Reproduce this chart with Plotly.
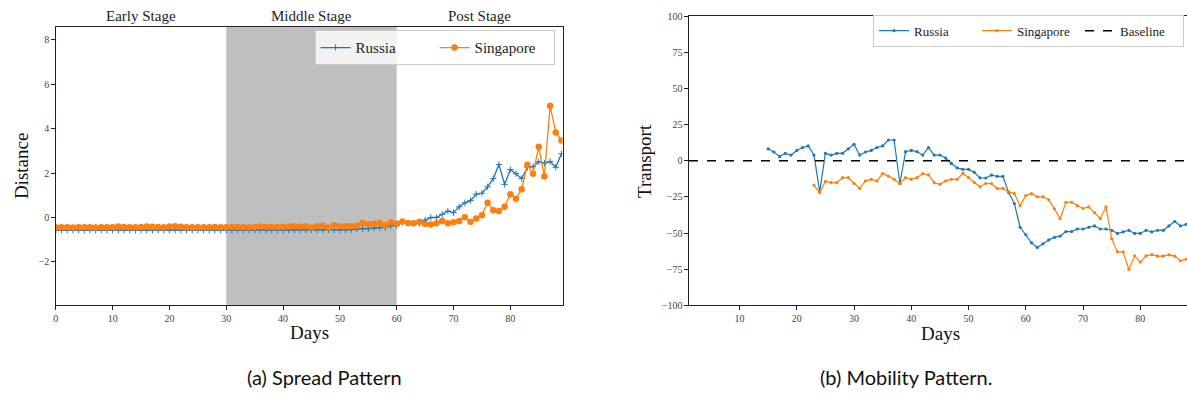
import plotly.graph_objects as go

# ---------------- data ----------------
spread_days = list(range(0, 90))
russia_spread = [
    -0.57, -0.57, -0.57, -0.57, -0.57, -0.57, -0.57, -0.57, -0.57, -0.57,
    -0.57, -0.57, -0.57, -0.57, -0.57, -0.57, -0.57, -0.57, -0.57, -0.57,
    -0.57, -0.57, -0.57, -0.57, -0.57, -0.57, -0.57, -0.57, -0.57, -0.57,
    -0.57, -0.57, -0.57, -0.57, -0.57, -0.57, -0.57, -0.57, -0.57, -0.57,
    -0.57, -0.57, -0.56, -0.56, -0.56, -0.56, -0.56, -0.56, -0.56, -0.56,
    -0.56, -0.56, -0.55, -0.51, -0.51, -0.51, -0.48, -0.45, -0.45, -0.37,
    -0.37, -0.22, -0.26, -0.26, -0.26, -0.12, 0.00, 0.00, 0.14, 0.29,
    0.22, 0.48, 0.66, 0.76, 1.05, 1.09, 1.38, 1.75, 2.38, 1.49,
    2.16, 1.97, 1.75, 2.26, 2.29, 2.51, 2.45, 2.52, 2.26, 2.87,
]
singapore_spread = [
    -0.44, -0.44, -0.44, -0.45, -0.44, -0.44, -0.44, -0.45, -0.44, -0.44,
    -0.44, -0.41, -0.43, -0.44, -0.44, -0.43, -0.41, -0.42, -0.43, -0.44,
    -0.41, -0.39, -0.42, -0.44, -0.44, -0.44, -0.44, -0.44, -0.43, -0.44,
    -0.44, -0.43, -0.43, -0.44, -0.44, -0.43, -0.40, -0.42, -0.43, -0.43,
    -0.42, -0.40, -0.39, -0.41, -0.39, -0.45, -0.39, -0.37, -0.45, -0.35,
    -0.39, -0.39, -0.39, -0.37, -0.25, -0.30, -0.28, -0.25, -0.35, -0.22,
    -0.27, -0.18, -0.25, -0.26, -0.19, -0.29, -0.31, -0.26, -0.16, -0.26,
    -0.21, -0.16, 0.01, -0.19, -0.04, 0.10, 0.66, 0.33, 0.29, 0.48,
    1.05, 0.84, 1.27, 2.37, 1.97, 3.18, 1.85, 5.03, 3.83, 3.47,
]

stage_names = ["Early Stage", "Middle Stage", "Post Stage"]
stage_starts = [0, 30, 60]
stage_ends = [30, 60, 89]

russia_mob_days = list(range(15, 89))
russia_transport = [
    8.3, 6.1, 2.9, 5.2, 4.0, 7.2, 9.2, 10.3, 4.0, -21.3,
    5.2, 4.0, 5.2, 5.2, 8.3, 11.4, 4.0, 6.1, 7.2, 9.2,
    10.3, 14.4, 14.4, -15.7, 6.3, 7.2, 6.3, 4.0, 9.2, 4.0,
    4.0, 1.9, -1.8, -4.9, -5.9, -5.9, -7.9, -11.8, -11.9, -9.9,
    -10.8, -10.8, -22.0, -29.6, -46.0, -51.2, -56.8, -60.0, -57.5, -54.8,
    -53.0, -52.1, -49.0, -49.0, -47.2, -47.2, -46.0, -45.1, -47.2, -47.2,
    -48.1, -50.3, -49.2, -48.1, -50.3, -50.3, -48.1, -49.2, -48.1, -48.1,
    -45.1, -42.0, -45.1, -44.0,
]
singapore_mob_days = list(range(23, 89))
singapore_transport = [
    -16.8, -22.0, -14.2, -15.1, -15.1, -11.7, -11.7, -15.7, -19.1, -13.9,
    -12.8, -13.9, -8.8, -10.6, -12.8, -15.7, -11.7, -12.8, -11.7, -8.8,
    -9.7, -15.1, -16.2, -13.9, -12.8, -12.8, -8.7, -11.7, -15.0, -18.0,
    -15.7, -15.7, -19.1, -19.1, -21.3, -22.7, -31.0, -24.0, -22.7, -24.9,
    -24.9, -27.0, -33.2, -40.0, -28.7, -28.7, -31.0, -33.0, -31.9, -35.9,
    -40.0, -31.9, -53.9, -63.1, -63.1, -75.2, -65.8, -70.1, -65.8, -64.9,
    -66.0, -66.0, -65.1, -66.0, -69.2, -68.1,
]
baseline_value = 0

spread_xrange = [0, 89.2]
spread_yrange = [-3.95, 8.57]
mob_xrange = [1.17, 88.15]
mob_yrange = [-100, 100]

BLUE = "#1f77b4"
ORANGE = "#ff7f0e"
SERIF = "Liberation Serif"
SANS = "Lato"

fig = go.Figure()

# ---------------- left: spread ----------------
fig.add_trace(go.Scatter(
    x=spread_days, y=russia_spread, mode="lines+markers", name="Russia",
    line=dict(color=BLUE, width=1.3),
    marker=dict(symbol="cross-thin", size=4.5, line=dict(color=BLUE, width=1), color=BLUE),
    xaxis="x", yaxis="y", legend="legend",
))
fig.add_trace(go.Scatter(
    x=spread_days, y=singapore_spread, mode="lines+markers", name="Singapore",
    line=dict(color=ORANGE, width=1.3),
    marker=dict(symbol="circle", size=6.5, color=ORANGE),
    xaxis="x", yaxis="y", legend="legend",
))

# middle stage shading
fig.add_shape(type="rect", xref="x", yref="y domain",
              x0=stage_starts[1], x1=stage_ends[1], y0=0, y1=1,
              fillcolor="#bfbfbf", line=dict(width=0), layer="below")

# ---------------- right: mobility ----------------
fig.add_trace(go.Scatter(
    x=russia_mob_days, y=russia_transport, mode="lines+markers", name="Russia",
    line=dict(color=BLUE, width=1.2),
    marker=dict(symbol="circle", size=3.2, color=BLUE),
    xaxis="x2", yaxis="y2", legend="legend2",
))
fig.add_trace(go.Scatter(
    x=singapore_mob_days, y=singapore_transport, mode="lines+markers", name="Singapore",
    line=dict(color=ORANGE, width=1.2),
    marker=dict(symbol="circle", size=3.2, color=ORANGE),
    xaxis="x2", yaxis="y2", legend="legend2",
))
fig.add_trace(go.Scatter(
    x=mob_xrange, y=[baseline_value, baseline_value], mode="lines", name="Baseline",
    line=dict(color="black", width=1.6, dash="dash"),
    xaxis="x2", yaxis="y2", legend="legend2",
))

axis_common = dict(
    showgrid=False, zeroline=False, showline=True, linecolor="#222", linewidth=1,
    ticks="outside", ticklen=3.5, tickwidth=1, tickcolor="#222",
    tickfont=dict(family=SERIF, size=10, color="#444"),
)

annotations = []
for name, s, e in zip(stage_names, stage_starts, stage_ends):
    annotations.append(dict(text=name, x=(s + e) / 2, xref="x", y=0.9435, yref="paper",
                            yanchor="bottom", xanchor="center", showarrow=False, yshift=1,
                            font=dict(family=SERIF, size=15, color="#222")))

title_font = dict(family=SERIF, size=19, color="#111")
annotations += [
    dict(text="Distance", x=18 / 1187, y=(402 - 165.7) / 402, xref="paper", yref="paper",
         textangle=-90, showarrow=False, font=title_font, xanchor="center", yanchor="middle"),
    dict(text="Days", x=307 / 1187, y=(402 - 337) / 402, xref="paper", yref="paper",
         showarrow=False, font=title_font, xanchor="center", yanchor="middle"),
    dict(text="Transport", x=643 / 1187, y=(402 - 160) / 402, xref="paper", yref="paper",
         textangle=-90, showarrow=False, font=title_font, xanchor="center", yanchor="middle"),
    dict(text="Days", x=940 / 1187, y=(402 - 338) / 402, xref="paper", yref="paper",
         showarrow=False, font=title_font, xanchor="center", yanchor="middle"),
    dict(text="(a) Spread Pattern", x=322 / 1187, y=(402 - 382) / 402, xref="paper", yref="paper",
         showarrow=False, font=dict(family=SANS, size=20, color="#111"),
         xanchor="center", yanchor="middle"),
    dict(text="(b) Mobility Pattern.", x=905 / 1187, y=(402 - 382) / 402, xref="paper", yref="paper",
         showarrow=False, font=dict(family=SANS, size=20, color="#111"),
         xanchor="center", yanchor="middle"),
]

fig.update_layout(
    width=1187, height=402,
    margin=dict(l=0, r=0, t=0, b=0),
    paper_bgcolor="white", plot_bgcolor="white",
    xaxis=dict(domain=[53 / 1187, 561 / 1187], range=spread_xrange, anchor="y",
               tickvals=[0, 10, 20, 30, 40, 50, 60, 70, 80], mirror=True, **axis_common),
    yaxis=dict(domain=[93.3 / 402, 379.3 / 402], range=spread_yrange, anchor="x",
               tickvals=[-2, 0, 2, 4, 6, 8], mirror=True, **axis_common),
    xaxis2=dict(domain=[687.7 / 1187, 1.0], range=mob_xrange, anchor="y2",
                tickvals=[10, 20, 30, 40, 50, 60, 70, 80], mirror=True, **axis_common),
    yaxis2=dict(domain=[93.3 / 402, 390.3 / 402], range=mob_yrange, anchor="x2",
                tickvals=[-100, -75, -50, -25, 0, 25, 50, 75, 100], mirror=False, **axis_common),
    legend=dict(x=553 / 1187, y=(402 - 26) / 402, xanchor="right", yanchor="top",
                orientation="h", bgcolor="rgba(255,255,255,0.8)", bordercolor="#cccccc",
                borderwidth=1, entrywidth=74, entrywidthmode="pixels",
                font=dict(family=SERIF, size=15, color="#222")),
    legend2=dict(x=1184 / 1187, y=(402 - 10) / 402, xanchor="right", yanchor="top",
                 orientation="h", bgcolor="rgba(255,255,255,0.8)", bordercolor="#cccccc",
                 borderwidth=1, entrywidth=58, entrywidthmode="pixels",
                 font=dict(family=SERIF, size=13, color="#222")),
    annotations=annotations,
)

fig.write_html("out.html")
